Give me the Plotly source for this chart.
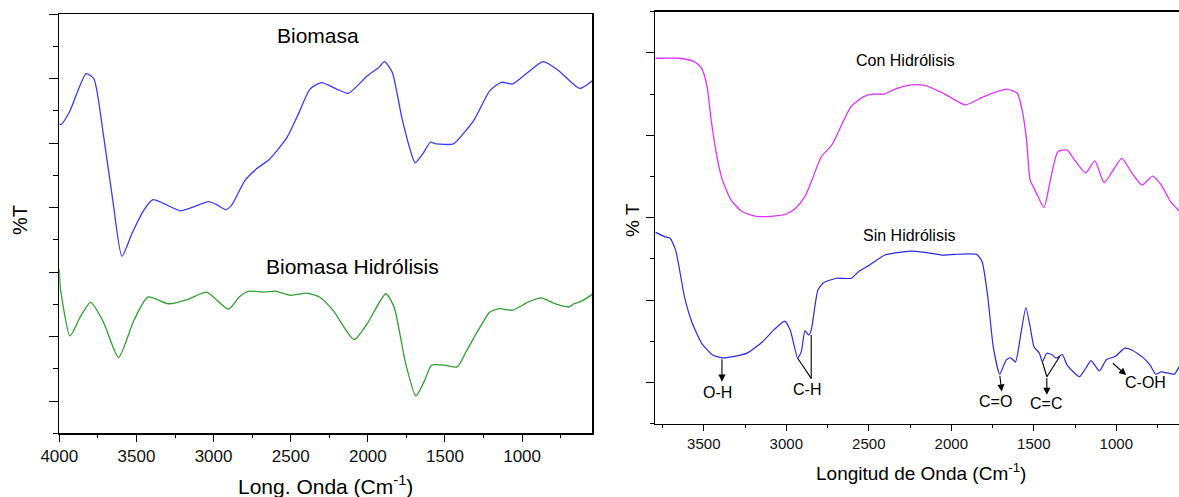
import plotly.graph_objects as go

# ---------------- Left panel data ----------------
bio_wn = [4000, 3988, 3931, 3826, 3776, 3715, 3653, 3594, 3529, 3454, 3393, 3318, 3218, 3144,
          3032, 2983, 2921, 2884, 2797, 2723, 2636, 2524, 2450, 2375, 2301, 2202, 2127, 2003,
          1929, 1892, 1842, 1780, 1730, 1693, 1644, 1594, 1557, 1445, 1383, 1308, 1209, 1135,
          1061, 962, 863, 763, 627, 545]
bio_t = [9.6, 9.58, 10.0, 11.16, 11.0, 9.29, 7.22, 5.49, 6.2, 6.91, 7.25, 7.12, 6.91, 7.0,
         7.19, 7.1, 6.94, 7.07, 7.84, 8.2, 8.51, 9.18, 9.91, 10.68, 10.88, 10.68, 10.55, 11.09,
         11.35, 11.53, 11.2, 9.8, 8.87, 8.39, 8.67, 9.03, 8.98, 8.98, 9.29, 9.75, 10.63, 10.89,
         10.84, 11.2, 11.53, 11.25, 10.7, 10.94]

hid_wn = [4000, 3995, 3988, 3931, 3864, 3797, 3715, 3616, 3516, 3424, 3293, 3169, 3045, 2903,
          2834, 2772, 2673, 2599, 2499, 2400, 2313, 2226, 2090, 2003, 1884, 1830, 1755, 1688,
          1631, 1587, 1495, 1421, 1358, 1284, 1209, 1148, 1061, 962, 875, 788, 696, 664, 614, 545]
hid_t = [5.1, 4.6, 4.33, 3.02, 3.61, 4.06, 3.46, 2.35, 3.51, 4.23, 4.02, 4.15, 4.38, 3.85,
         4.23, 4.41, 4.38, 4.41, 4.28, 4.35, 4.23, 3.82, 2.91, 3.41, 4.33, 3.92, 2.17, 1.16,
         1.65, 2.11, 2.11, 2.06, 2.58, 3.2, 3.76, 3.87, 3.82, 4.07, 4.2, 4.02, 3.92, 4.02, 4.1, 4.31]

# ---------------- Right panel data ----------------
con_wn = [3794, 3648, 3558, 3514, 3480, 3458, 3424, 3391, 3335, 3268, 3190, 3078, 3000, 2944,
          2888, 2844, 2788, 2725, 2665, 2609, 2531, 2475, 2408, 2341, 2251, 2162, 2039, 1916,
          1802, 1667, 1600, 1567, 1544, 1522, 1488, 1439, 1399, 1354, 1298, 1253, 1186, 1130,
          1074, 1018, 967, 906, 844, 779, 727, 671, 620]
con_t = [8.87, 8.87, 8.79, 8.63, 8.18, 7.45, 6.56, 5.96, 5.43, 5.15, 5.04, 5.04, 5.09, 5.23,
         5.51, 5.92, 6.48, 6.76, 7.25, 7.69, 7.94, 8.0, 8.0, 8.12, 8.22, 8.21, 8.0, 7.74,
         7.94, 8.12, 8.02, 7.53, 6.89, 5.92, 5.63, 5.25, 5.92, 6.6, 6.64, 6.4, 6.09, 6.38,
         5.85, 6.16, 6.44, 6.09, 5.79, 6.01, 5.79, 5.39, 5.17]

sin_wn = [3794, 3738, 3704, 3670, 3615, 3570, 3513, 3447, 3390, 3323, 3234, 3144, 3077, 3010,
          2976, 2931, 2909, 2887, 2864, 2849, 2809, 2775, 2697, 2607, 2562, 2495, 2406, 2249,
          2160, 2048, 1981, 1846, 1813, 1779, 1746, 1707, 1667, 1641, 1611, 1578, 1548, 1522,
          1499, 1466, 1448, 1421, 1387, 1365, 1327, 1298, 1224, 1186, 1153, 1103, 1059, 1007,
          951, 906, 839, 795, 761, 727, 649, 620]
sin_t = [4.65, 4.54, 4.5, 4.2, 3.04, 2.44, 1.95, 1.67, 1.6, 1.63, 1.72, 1.99, 2.27, 2.49,
         2.27, 1.59, 1.75, 2.26, 2.15, 2.27, 3.24, 3.42, 3.53, 3.53, 3.69, 3.85, 4.09, 4.19,
         4.16, 4.09, 4.11, 4.11, 3.93, 3.08, 1.87, 1.2, 1.55, 1.6, 1.5, 2.19, 2.82, 2.35,
         1.87, 1.71, 1.5, 1.71, 1.67, 1.59, 1.68, 1.42, 1.14, 1.34, 1.53, 1.28, 1.56, 1.63,
         1.83, 1.79, 1.61, 1.42, 1.2, 1.26, 1.2, 1.38]

# Band labels (text, x, y)
band_labels = ["O-H", "C-H", "C=O", "C=C", "C-OH"]
band_lx = [3418, 2873, 1730, 1428, 821]
band_ly = [0.75, 0.84, 0.54, 0.49, 0.99]
# Arrows: (tail x, tail y, head x, head y)
arrows = [(3390, 1.6, 3390, 1.02), (1707, 1.2, 1694, 0.78), (1421, 1.14, 1421, 0.70),
          (1030, 1.5, 940, 1.18)]
# Plain connector lines (x0, y0, x1, y1)
connectors = [(2931, 1.59, 2849, 1.10), (2849, 2.15, 2849, 1.10),
              (1448, 1.5, 1421, 1.14), (1343, 1.63, 1421, 1.14)]

FONT = "Arial, Liberation Sans, sans-serif"
W, H = 1179, 497

fig = go.Figure()
fig.add_trace(go.Scatter(x=bio_wn, y=bio_t, mode="lines", line=dict(color="#3a3aff", width=1.3, shape="spline", smoothing=0.6),
                         xaxis="x", yaxis="y", showlegend=False, hoverinfo="skip"))
fig.add_trace(go.Scatter(x=hid_wn, y=hid_t, mode="lines", line=dict(color="#2ea02e", width=1.3, shape="spline", smoothing=0.6),
                         xaxis="x", yaxis="y", showlegend=False, hoverinfo="skip"))
fig.add_trace(go.Scatter(x=con_wn, y=con_t, mode="lines", line=dict(color="#dd33ff", width=1.3, shape="spline", smoothing=0.6),
                         xaxis="x2", yaxis="y2", showlegend=False, hoverinfo="skip"))
fig.add_trace(go.Scatter(x=sin_wn, y=sin_t, mode="lines", line=dict(color="#2a2ae6", width=1.2, shape="spline", smoothing=0.5),
                         xaxis="x2", yaxis="y2", showlegend=False, hoverinfo="skip"))

def px(x):
    return x / W

def py(y):
    return (H - y) / H

ax_common = dict(showgrid=False, zeroline=False, showline=True, linecolor="black", linewidth=1.5,
                 ticks="outside", tickcolor="black", tickwidth=1, automargin=False)

fig.update_layout(
    width=W, height=H, autosize=False,
    margin=dict(l=0, r=0, t=0, b=0, pad=0, autoexpand=False),
    paper_bgcolor="white", plot_bgcolor="white",
    font=dict(family=FONT, color="black"),
    xaxis=dict(domain=[px(59.3), px(592.3)], range=[4000, 545], anchor="y", mirror=True,
               tickmode="linear", tick0=0, dtick=500, ticklen=7,
               tickfont=dict(size=17, color="#111"),
               minor=dict(dtick=250, tick0=0, ticklen=3, ticks="outside", tickcolor="black"),
               **ax_common),
    yaxis=dict(domain=[py(433.3), py(14.3)], range=[0, 13], anchor="x", mirror=True,
               tickmode="linear", tick0=1, dtick=2, ticklen=9, showticklabels=False,
               minor=dict(dtick=1, tick0=0, ticklen=4.5, ticks="outside", tickcolor="black"),
               **ax_common),
    xaxis2=dict(domain=[px(655.3), 1.0], range=[3794, 620], anchor="y2", mirror=True,
                tickmode="linear", tick0=0, dtick=500, ticklen=6,
                tickfont=dict(size=15, color="#111"),
                minor=dict(dtick=250, tick0=0, ticklen=3, ticks="outside", tickcolor="black"),
                **ax_common),
    yaxis2=dict(domain=[py(423.7), py(11.7)], range=[0, 10], anchor="x2", mirror=False,
                tickmode="linear", tick0=1, dtick=2, ticklen=7.5, showticklabels=False,
                minor=dict(dtick=1, tick0=0, ticklen=4, ticks="outside", tickcolor="black"),
                **ax_common),
)

anns = []
def ptext(text, x, y, size, angle=0):
    anns.append(dict(text=text, x=px(x), y=py(y), xref="paper", yref="paper", showarrow=False,
                     xanchor="center", yanchor="middle", textangle=angle,
                     font=dict(size=size, family=FONT, color="black")))

ptext("Biomasa", 318, 35, 21)
ptext("Biomasa Hidrólisis", 352, 266, 21)
ptext("%T", 20, 220, 20, -90)
ptext("Long. Onda (Cm<sup>-1</sup>)", 325, 485, 21)
ptext("Con Hidrólisis", 905, 60, 16)
ptext("Sin Hidrólisis", 909, 235, 16)
ptext("% T", 632, 220, 19, -90)
ptext("Longitud de Onda (Cm<sup>-1</sup>)", 921, 472, 19)

for t, x, y in zip(band_labels, band_lx, band_ly):
    anns.append(dict(text=t, x=x, y=y, xref="x2", yref="y2", showarrow=False,
                     xanchor="center", yanchor="middle", font=dict(size=16, family=FONT, color="black")))
for (x0, y0, x1, y1) in arrows:
    anns.append(dict(text="", x=x1, y=y1, ax=x0, ay=y0, xref="x2", yref="y2", axref="x2", ayref="y2",
                     showarrow=True, arrowhead=2, arrowsize=1.3, arrowwidth=1.1, arrowcolor="black", standoff=0))
fig.update_layout(annotations=anns)

for (x0, y0, x1, y1) in connectors:
    fig.add_shape(type="line", x0=x0, y0=y0, x1=x1, y1=y1, xref="x2", yref="y2",
                  line=dict(color="black", width=1.1))

fig.write_html(
    "out.html",
    config={"displayModeBar": False, "staticPlot": True},
    post_script="document.body.style.margin='0';document.body.style.padding='0';"
                "document.body.style.overflow='hidden';document.documentElement.style.overflow='hidden';",
)
